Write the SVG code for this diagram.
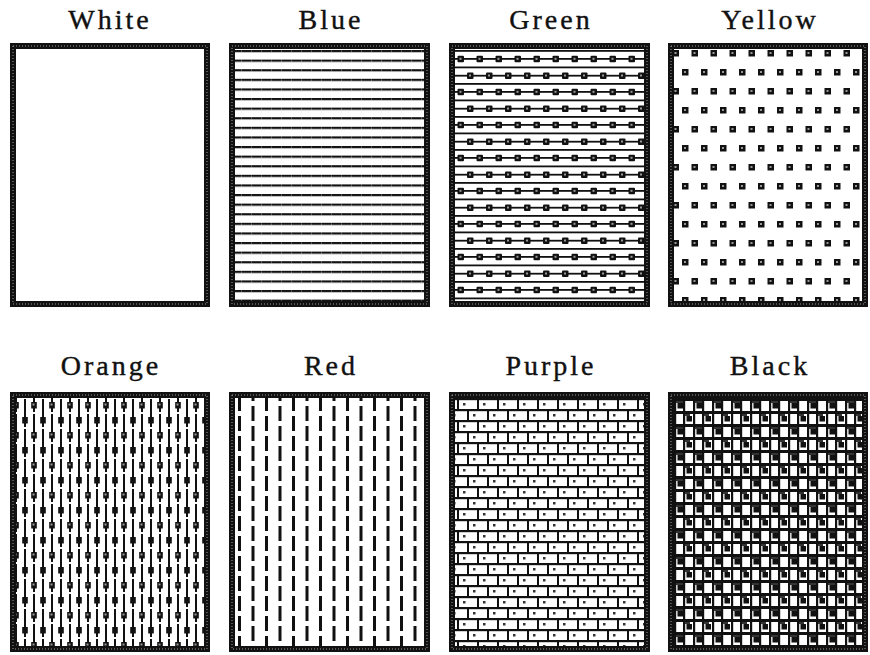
<svg xmlns="http://www.w3.org/2000/svg" width="870" height="655" viewBox="0 0 870 655">
<style>
.lbl{font-family:"Liberation Serif","DejaVu Serif",serif;font-size:28px;letter-spacing:3px;fill:#111;stroke:#111;stroke-width:0.4;text-anchor:middle}
.frame{fill:none;stroke:#111;stroke-width:6}
.tex{fill:none;stroke:#9a9a9a;stroke-width:1;stroke-dasharray:1 2}
</style>
<defs>
<pattern id="pBlue" patternUnits="userSpaceOnUse" x="0" y="50" width="20" height="9.6">
<rect x="0" y="0" width="20" height="2.2" fill="#111"/>
<rect x="1" y="0.6" width="1" height="1" fill="#888"/><rect x="11" y="0.6" width="1" height="1" fill="#888"/>
</pattern>
<pattern id="pGreen" patternUnits="userSpaceOnUse" x="451" y="50" width="19" height="33">
<rect x="0" y="0" width="19" height="1.8" fill="#111"/>
<rect x="0" y="8" width="19" height="1.8" fill="#111"/>
<rect x="0" y="16.5" width="19" height="1.8" fill="#111"/>
<rect x="0" y="24.8" width="19" height="1.8" fill="#111"/>
<rect x="6.5" y="5.8" width="6.5" height="6.5" rx="1" fill="#111"/>
<rect x="8.5" y="7.8" width="2" height="2" fill="#999"/>
<rect x="16" y="22.5" width="6.5" height="6.5" rx="1" fill="#111"/>
<rect x="-3" y="22.5" width="6.5" height="6.5" rx="1" fill="#111"/>
<rect x="18" y="24.5" width="2" height="2" fill="#999"/>
<rect x="-1" y="24.5" width="2" height="2" fill="#999"/>
</pattern>
<pattern id="pYellow" patternUnits="userSpaceOnUse" x="670" y="50" width="19" height="38">
<rect x="2.5" y="0" width="6.5" height="6.5" fill="#111"/>
<rect x="4.5" y="2" width="2" height="2" fill="#999"/>
<rect x="12" y="19" width="6.5" height="6.5" fill="#111"/>
<rect x="14" y="21" width="2" height="2" fill="#999"/>
</pattern>
<pattern id="pOrange" patternUnits="userSpaceOnUse" x="12" y="396" width="18" height="30">
<rect x="3" y="0" width="2" height="30" fill="#111"/>
<rect x="12" y="0" width="2" height="30" fill="#111"/>
<rect x="1.2" y="6" width="5.6" height="6.5" fill="#111"/>
<rect x="10.2" y="21" width="5.6" height="6.5" fill="#111"/>
<rect x="3" y="16" width="2" height="2" fill="#fff"/>
<rect x="12" y="1" width="2" height="2" fill="#fff"/>
<rect x="2.5" y="7.5" width="2" height="2" fill="#999"/>
</pattern>
<pattern id="pRed" patternUnits="userSpaceOnUse" x="232" y="396" width="27" height="40">
<rect x="6" y="0" width="3" height="15" fill="#111"/>
<rect x="6" y="20" width="3" height="15" fill="#111"/>
<rect x="19.5" y="10" width="3" height="15" fill="#111"/>
<rect x="19.5" y="30" width="3" height="15" fill="#111"/>
<rect x="19.5" y="-10" width="3" height="15" fill="#111"/>
</pattern>
<pattern id="pPurple" patternUnits="userSpaceOnUse" x="452" y="398" width="20" height="22">
<rect x="0" y="0" width="20" height="2.2" fill="#111"/>
<rect x="0" y="11" width="20" height="2.2" fill="#111"/>
<rect x="5" y="0" width="2" height="11" fill="#111"/>
<rect x="15" y="11" width="2" height="11" fill="#111"/>
<rect x="11" y="5" width="2.5" height="2.5" fill="#333"/>
<rect x="1" y="16" width="2.5" height="2.5" fill="#333"/>
</pattern>
<pattern id="pBlack" patternUnits="userSpaceOnUse" x="671" y="398" width="19" height="26">
<rect x="0" y="0" width="19" height="3" fill="#111"/>
<rect x="0" y="13" width="19" height="3" fill="#111"/>
<rect x="3" y="0" width="2.2" height="26" fill="#111"/>
<rect x="12" y="0" width="2.2" height="26" fill="#111"/>
<rect x="6.5" y="5" width="5.5" height="5.5" fill="#111"/>
<rect x="15.5" y="18" width="5.5" height="5.5" fill="#111"/>
<rect x="-3.5" y="18" width="5.5" height="5.5" fill="#111"/>
<rect x="5" y="3" width="7" height="2" fill="#333"/>
<rect x="14" y="16" width="5" height="2" fill="#333"/>
</pattern>
</defs>

<g id="white">
<text class="lbl" x="110" y="29">White</text>
<rect x="13" y="46" width="194" height="258" fill="#fff"/>
<rect class="frame" x="13" y="46" width="194" height="258"/>
<rect class="tex" x="13" y="46" width="194" height="258"/>
</g>
<g id="blue">
<text class="lbl" x="331" y="29">Blue</text>
<rect x="232" y="46" width="195" height="258" fill="url(#pBlue)"/>
<rect class="frame" x="232" y="46" width="195" height="258"/>
<rect class="tex" x="232" y="46" width="195" height="258"/>
</g>
<g id="green">
<text class="lbl" x="551" y="29">Green</text>
<rect x="452" y="46" width="195" height="258" fill="url(#pGreen)"/>
<rect class="frame" x="452" y="46" width="195" height="258"/>
<rect class="tex" x="452" y="46" width="195" height="258"/>
</g>
<g id="yellow">
<text class="lbl" x="770" y="29">Yellow</text>
<rect x="671" y="46" width="194" height="258" fill="url(#pYellow)"/>
<rect class="frame" x="671" y="46" width="194" height="258"/>
<rect class="tex" x="671" y="46" width="194" height="258"/>
</g>
<g id="orange">
<text class="lbl" x="111" y="375">Orange</text>
<rect x="13" y="395" width="194" height="254" fill="url(#pOrange)"/>
<rect class="frame" x="13" y="395" width="194" height="254"/>
<rect class="tex" x="13" y="395" width="194" height="254"/>
</g>
<g id="red">
<text class="lbl" x="331" y="375">Red</text>
<rect x="232" y="395" width="195" height="254" fill="url(#pRed)"/>
<rect class="frame" x="232" y="395" width="195" height="254"/>
<rect class="tex" x="232" y="395" width="195" height="254"/>
</g>
<g id="purple">
<text class="lbl" x="551" y="375">Purple</text>
<rect x="452" y="395" width="195" height="254" fill="url(#pPurple)"/>
<rect class="frame" x="452" y="395" width="195" height="254"/>
<rect class="tex" x="452" y="395" width="195" height="254"/>
</g>
<g id="black">
<text class="lbl" x="770" y="375">Black</text>
<rect x="671" y="395" width="194" height="254" fill="url(#pBlack)"/>
<rect class="frame" x="671" y="395" width="194" height="254"/>
<rect class="tex" x="671" y="395" width="194" height="254"/>
</g>
<g id="connectors"/>
</svg>
